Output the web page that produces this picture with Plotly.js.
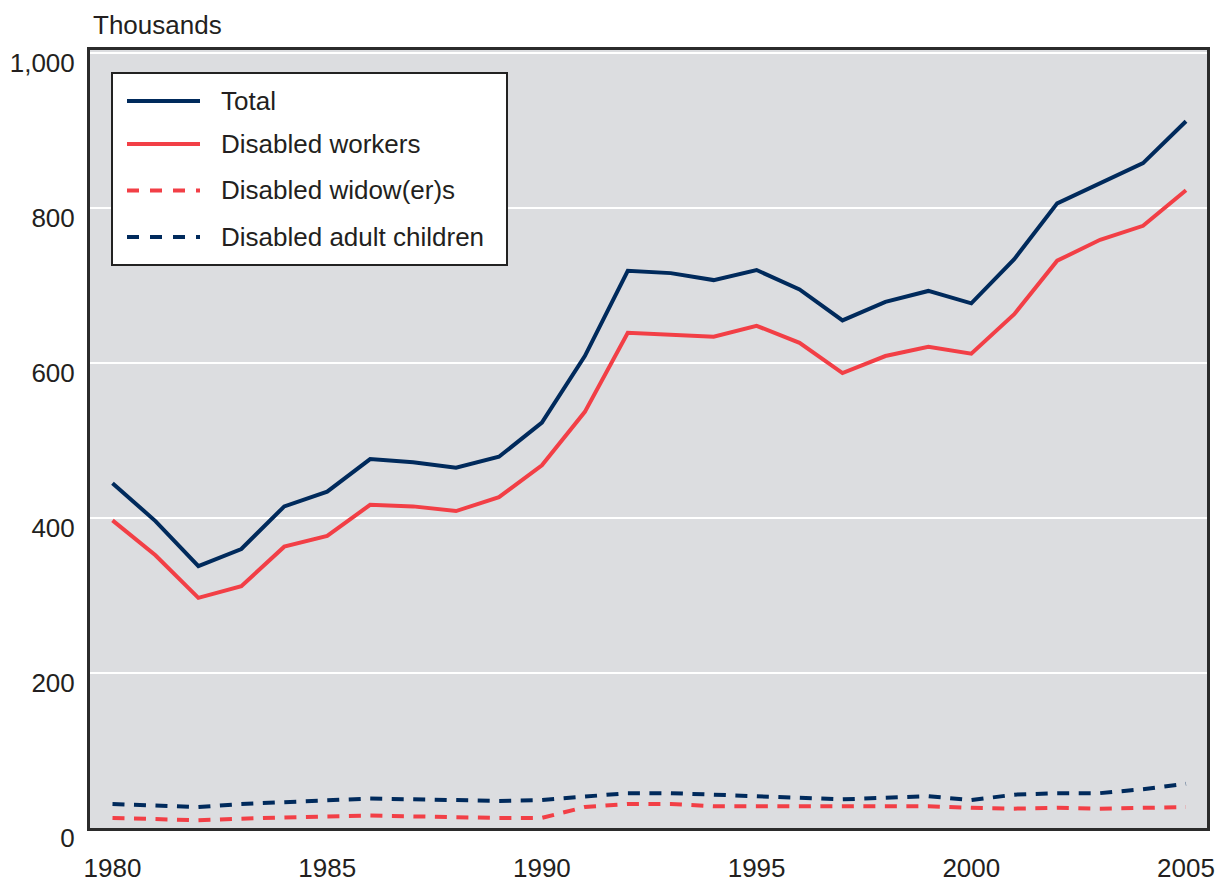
<!DOCTYPE html>
<html>
<head>
<meta charset="utf-8">
<script src="https://cdn.plot.ly/plotly-3.0.1.min.js"></script>
<style>html,body{margin:0;padding:0;background:#fff;}#chart{width:1217px;height:884px;}</style>
</head>
<body>
<div id="chart"></div>
<script>
var years = [1980,1981,1982,1983,1984,1985,1986,1987,1988,1989,1990,1991,1992,1993,1994,1995,1996,1997,1998,1999,2000,2001,2002,2003,2004,2005];
var total = [445,396,338,360,415,434,476,472,465,479,523,609,719,716,707,720,695,655,679,693,677,734,806,832,858,912];
var disabledWorkers = [397,352,297,312,363,377,417,415,409,427,468,537,639,636,634,648,626,587,609,621,612,663,732,759,777,823];
var disabledWidowers = [13,12,10,12,14,15,16,15,13,13,13,27,31,31,28,28,27,27,27,28,26,25,26,25,26,27];
var disabledAdultChildren = [31,29,27,31,33,36,38,37,36,35,36,40,45,45,43,42,39,37,39,41,36,43,45,45,50,57];
var seriesNames = ['Total','Disabled workers','Disabled widow(er)s','Disabled adult children'];
var yTicks = [0,200,400,600,800,1000];
var yTickText = ['0','200','400','600','800','1,000'];
var xTicks = [1980,1985,1990,1995,2000,2005];

var NAVY = '#002a5c', RED = '#f23f46';
var FONT = 'Liberation Sans, Arial, Helvetica, sans-serif';
var TXT = '#231f20';
var FS = 26;

var seriesData = [total, disabledWorkers, disabledWidowers, disabledAdultChildren];
var seriesColor = [NAVY, RED, RED, NAVY];
var seriesDash = ['solid','solid','12px,9.5px','12px,9.5px'];

var traces = seriesData.map(function(d,i){
  return {x: years, y: d, type:'scatter', mode:'lines', name: seriesNames[i],
    line:{color: seriesColor[i], width:4, dash: seriesDash[i]}, hoverinfo:'skip'};
});

// plot area in pixels
var L = 90, R = 1207, T = 50, B = 828;
function px(x){ return (x - L)/(R - L); }
function py(y){ return (B - y)/(B - T); }

var shapes = [];
var annotations = [];
// legend box
shapes.push({type:'rect', xref:'paper', yref:'paper', x0:px(112), x1:px(507), y0:py(73), y1:py(265),
  fillcolor:'#ffffff', line:{color:'#222222', width:2}, layer:'above'});
var legY = [101, 144, 190.5, 237];
seriesNames.forEach(function(n,i){
  shapes.push({type:'line', xref:'paper', yref:'paper', x0:px(127), x1:px(200), y0:py(legY[i]), y1:py(legY[i]),
    line:{color: seriesColor[i], width:4, dash: i>=2 ? '12px,11px' : 'solid'}, layer:'above'});
  annotations.push({xref:'paper', yref:'paper', x:px(219), y:py(legY[i]), xanchor:'left', yanchor:'middle',
    text:n, showarrow:false, font:{family:FONT, size:FS, color:TXT}});
});
annotations.push({xref:'paper', yref:'paper', x:px(91), y:py(25), xanchor:'left', yanchor:'middle',
  text:'Thousands', showarrow:false, font:{family:FONT, size:FS, color:TXT}});

var layout = {
  width:1217, height:884,
  margin:{l:L, r:1217-R, t:T, b:884-B, pad:0},
  paper_bgcolor:'#ffffff', plot_bgcolor:'#dcdde0',
  showlegend:false,
  font:{family:FONT, size:FS, color:TXT},
  xaxis:{range:[1979.476, 2005.489], tickvals:xTicks, ticktext:xTicks.map(String), showgrid:false, zeroline:false,
    showline:true, mirror:true, linecolor:'#2b2b2b', linewidth:3, ticks:'', ticklabelstandoff:15,
    tickfont:{family:FONT, size:FS, color:TXT}, fixedrange:true},
  yaxis:{range:[0, 1003.9], tickvals:yTicks, ticktext:yTickText, showgrid:true, gridcolor:'#ffffff', gridwidth:2.5,
    zeroline:false, showline:true, mirror:true, linecolor:'#2b2b2b', linewidth:3, ticks:'', ticklabelstandoff:7,
    ticklabelshift:10, tickfont:{family:FONT, size:FS, color:TXT}, fixedrange:true},
  shapes:shapes, annotations:annotations
};
Plotly.newPlot('chart', traces, layout, {displayModeBar:false, staticPlot:true});
</script>
</body>
</html>
